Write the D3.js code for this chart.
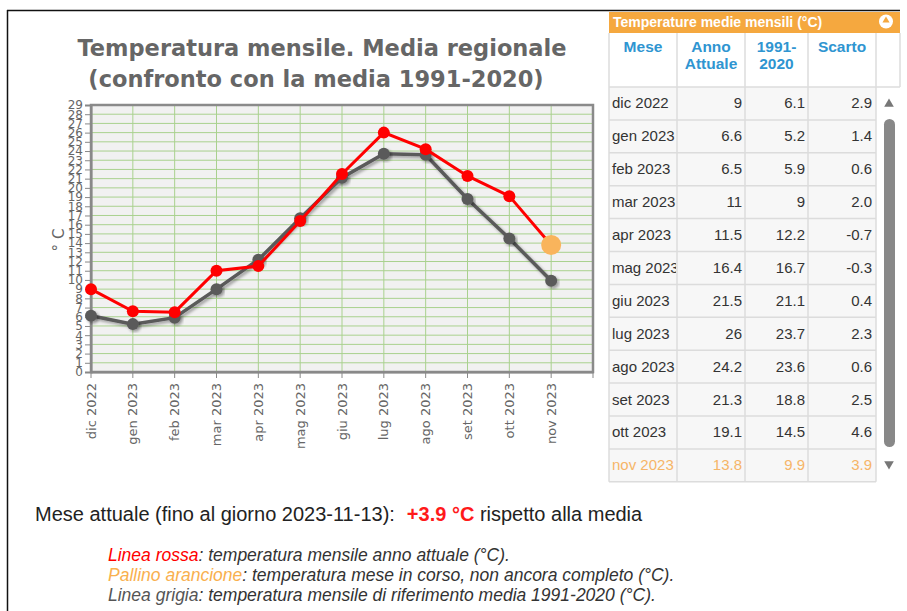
<!DOCTYPE html>
<html>
<head>
<meta charset="utf-8">
<script src="https://cdn.jsdelivr.net/npm/d3@7"></script>
<style>
  body { margin: 0; background: #fff; }
  svg text { font-family: "DejaVu Sans", sans-serif; }
  .tab text, .note text { font-family: "Liberation Sans", Arial, sans-serif; }
</style>
</head>
<body>
<svg id="chart" width="907" height="611"></svg>
<script>
// data
var months = ["dic 2022", "gen 2023", "feb 2023", "mar 2023", "apr 2023", "mag 2023",
              "giu 2023", "lug 2023", "ago 2023", "set 2023", "ott 2023", "nov 2023"];
var current = [9, 6.6, 6.5, 11, 11.5, 16.4, 21.5, 26, 24.2, 21.3, 19.1, 13.8];
var normal = [6.1, 5.2, 5.9, 9, 12.2, 16.7, 21.1, 23.7, 23.6, 18.8, 14.5, 9.9];
var scarto = ["2.9", "1.4", "0.6", "2.0", "-0.7", "-0.3", "0.4", "2.3", "0.6", "2.5", "4.6", "3.9"];
var yTicks = d3.range(0, 30);

var svg = d3.select("#chart");

// frame lines (screenshot border)
svg.append("line").attr("x1", 7).attr("x2", 900).attr("y1", 10.5).attr("y2", 10.5)
    .attr("stroke", "#111").attr("stroke-width", 1.5);
svg.append("line").attr("x1", 7.5).attr("x2", 7.5).attr("y1", 10).attr("y2", 611)
    .attr("stroke", "#111").attr("stroke-width", 1.5);

// title
svg.append("text").attr("x", 322).attr("y", 56).attr("text-anchor", "middle")
    .attr("font-size", 22.5).attr("font-weight", "bold").attr("fill", "#666")
    .text("Temperatura mensile. Media regionale");
svg.append("text").attr("x", 316).attr("y", 87).attr("text-anchor", "middle")
    .attr("font-size", 22.5).attr("font-weight", "bold").attr("fill", "#666")
    .text("(confronto con la media 1991-2020)");

var pLeft = 91, pRight = 593, pTop = 105, pBottom = 372;

var x = d3.scaleBand().domain(months).range([pLeft, pRight]).paddingInner(0).paddingOuter(0);
var y = d3.scaleLinear().domain([0, 29]).range([pBottom, pTop]);

var defs = svg.append("defs");
var sh = defs.append("filter").attr("id", "shadow").attr("x", "-20%").attr("y", "-20%")
    .attr("width", "140%").attr("height", "140%");
sh.append("feDropShadow").attr("dx", 2).attr("dy", 2).attr("stdDeviation", 1.5)
    .attr("flood-color", "#000").attr("flood-opacity", 0.35);

// plot background
svg.append("rect").attr("x", pLeft).attr("y", pTop).attr("width", pRight - pLeft).attr("height", pBottom - pTop)
    .attr("fill", "#f1f1f1");

// grid
svg.append("g").selectAll("line").data(yTicks.slice(1)).enter().append("line")
    .attr("x1", pLeft).attr("x2", pRight)
    .attr("y1", function(d) { return y(d); }).attr("y2", function(d) { return y(d); })
    .attr("stroke", "#a9d18e").attr("stroke-width", 1);
svg.append("g").selectAll("line").data(months.slice(1)).enter().append("line")
    .attr("x1", function(d) { return x(d); }).attr("x2", function(d) { return x(d); })
    .attr("y1", pTop).attr("y2", pBottom)
    .attr("stroke", "#a9d18e").attr("stroke-width", 1);

// border
svg.append("rect").attr("x", pLeft).attr("y", pTop).attr("width", pRight - pLeft).attr("height", pBottom - pTop)
    .attr("fill", "none").attr("stroke", "#8a8a8a").attr("stroke-width", 2.5);

// axes
var yAxis = d3.axisLeft(y).tickValues(yTicks).tickSize(6).tickPadding(2);
var gy = svg.append("g").attr("transform", "translate(" + pLeft + ",0)").call(yAxis);
gy.select(".domain").attr("stroke", "#888").attr("stroke-width", 2);
gy.selectAll(".tick line").attr("stroke", "#888");
gy.selectAll("text").attr("font-size", 12).attr("fill", "#666").attr("font-family", "DejaVu Sans");

var xAxis = d3.axisBottom(x).tickSize(6).tickSizeOuter(0);
var gx = svg.append("g").attr("transform", "translate(0," + pBottom + ")").call(xAxis);
gx.select(".domain").attr("stroke", "#888").attr("stroke-width", 2);
gx.selectAll(".tick").attr("transform", function(d) { return "translate(" + x(d) + ",0)"; });
gx.selectAll(".tick line").attr("stroke", "#888");
gx.append("line").attr("x1", pRight).attr("x2", pRight).attr("y1", 0).attr("y2", 6).attr("stroke", "#888");
gx.selectAll("text").attr("font-size", 13).attr("fill", "#666").attr("font-family", "DejaVu Sans")
    .attr("transform", "rotate(-90)").attr("text-anchor", "end")
    .attr("x", -11).attr("y", 0).attr("dy", "0.35em");

svg.append("text").attr("transform", "translate(64,240) rotate(-90)")
    .attr("text-anchor", "middle").attr("font-size", 15).attr("fill", "#666").text("° C");

// lines
var line = d3.line().x(function(d, i) { return x(months[i]); }).y(function(d) { return y(d); });

svg.append("path").datum(normal).attr("d", line).attr("fill", "none")
    .attr("stroke", "#5a5a5a").attr("stroke-width", 3.5).attr("filter", "url(#shadow)");
svg.append("g").selectAll("circle").data(normal).enter().append("circle")
    .attr("cx", function(d, i) { return x(months[i]); }).attr("cy", function(d) { return y(d); })
    .attr("r", 6).attr("fill", "#5a5a5a").attr("filter", "url(#shadow)");

svg.append("path").datum(current).attr("d", line).attr("fill", "none")
    .attr("stroke", "#ff0000").attr("stroke-width", 3);
svg.append("g").selectAll("circle").data(current.slice(0, 11)).enter().append("circle")
    .attr("cx", function(d, i) { return x(months[i]); }).attr("cy", function(d) { return y(d); })
    .attr("r", 6).attr("fill", "#ff0000");
svg.append("circle").attr("cx", x(months[11])).attr("cy", y(current[11]))
    .attr("r", 10).attr("fill", "#f9b45c");

// table
var tab = svg.append("g").attr("class", "tab");
var colX = [609, 677, 745, 808, 876, 900];
var headTop = 33, headBot = 87, rowH = 32.9;

tab.append("rect").attr("x", 609).attr("y", 12).attr("width", 291).attr("height", 21).attr("fill", "#f5a83f");
tab.append("text").attr("x", 613).attr("y", 27).attr("font-size", 14).attr("font-weight", "bold")
    .attr("fill", "#fff").text("Temperature medie mensili (°C)");
tab.append("circle").attr("cx", 886).attr("cy", 21.5).attr("r", 7).attr("fill", "#fff");
tab.append("path").attr("d", d3.symbol(d3.symbolTriangle, 22)()).attr("transform", "translate(886,20.5)")
    .attr("fill", "#f5a83f");

tab.append("rect").attr("x", 609).attr("y", headTop).attr("width", 291).attr("height", headBot - headTop)
    .attr("fill", "#fff");
tab.append("rect").attr("x", 609).attr("y", headBot).attr("width", 267).attr("height", rowH * 12)
    .attr("fill", "#f7f7f7");

// grid of table
tab.selectAll(".vl").data(colX.slice(0, 5)).enter().append("line")
    .attr("x1", function(d) { return d; }).attr("x2", function(d) { return d; })
    .attr("y1", headTop).attr("y2", headBot + rowH * 12)
    .attr("stroke", "#dcdcdc").attr("stroke-width", 1.5);
tab.append("line").attr("x1", 900).attr("x2", 900).attr("y1", headTop).attr("y2", headBot)
    .attr("stroke", "#dcdcdc").attr("stroke-width", 1.5);
tab.selectAll(".hl").data(d3.range(13)).enter().append("line")
    .attr("x1", 609).attr("x2", function(d) { return d == 0 ? 900 : 876; })
    .attr("y1", function(d) { return headBot + d * rowH; }).attr("y2", function(d) { return headBot + d * rowH; })
    .attr("stroke", "#dcdcdc").attr("stroke-width", 1.5);

var heads = [["Mese"], ["Anno", "Attuale"], ["1991-", "2020"], ["Scarto"]];
heads.forEach(function(h, i) {
    var t = tab.append("text").attr("x", (colX[i] + colX[i + 1]) / 2).attr("y", 52)
        .attr("text-anchor", "middle").attr("font-size", 15.5).attr("font-weight", "bold").attr("fill", "#2f95d1");
    h.forEach(function(s, j) {
        t.append("tspan").attr("x", (colX[i] + colX[i + 1]) / 2).attr("dy", j == 0 ? 0 : 16.5).text(s);
    });
});

// clip for the month column (coordinates relative to each row)
tab.append("clipPath").attr("id", "c0").append("rect")
    .attr("x", 609).attr("y", -25).attr("width", 67).attr("height", 40);

var rows = tab.selectAll(".row").data(months).enter().append("g")
    .attr("transform", function(d, i) { return "translate(0," + (headBot + i * rowH + rowH / 2 + 5) + ")"; })
    .attr("fill", function(d, i) { return i == 11 ? "#f6b568" : "#333"; })
    .attr("font-size", 15);
rows.append("text").attr("x", 612).attr("clip-path", "url(#c0)").text(function(d) { return d; });
rows.append("text").attr("x", 742).attr("text-anchor", "end").text(function(d, i) { return current[i]; });
rows.append("text").attr("x", 805).attr("text-anchor", "end").text(function(d, i) { return normal[i]; });
rows.append("text").attr("x", 872).attr("text-anchor", "end").text(function(d, i) { return scarto[i]; });

// scrollbar
tab.append("path").attr("d", d3.symbol(d3.symbolTriangle, 40)()).attr("transform", "translate(889,104)")
    .attr("fill", "#777");
tab.append("path").attr("d", d3.symbol(d3.symbolTriangle, 40)()).attr("transform", "translate(889,464) rotate(180)")
    .attr("fill", "#777");
tab.append("rect").attr("x", 884).attr("y", 119).attr("width", 11).attr("height", 328).attr("rx", 5.5)
    .attr("fill", "#888");

// notes
var note = svg.append("g").attr("class", "note");
var t1 = note.append("text").attr("x", 35).attr("y", 521).attr("font-size", 20).attr("fill", "#222");
t1.append("tspan").text("Mese attuale (fino al giorno 2023-11-13):");
t1.append("tspan").attr("dx", 12).attr("fill", "#ff1a1a").attr("font-weight", "bold").text("+3.9 °C");
t1.append("tspan").text(" rispetto alla media");

var legend = [
    ["Linea rossa", "#ff0000", ": temperatura mensile anno attuale (°C)."],
    ["Pallino arancione", "#f9b04e", ": temperatura mese in corso, non ancora completo (°C)."],
    ["Linea grigia", "#555", ": temperatura mensile di riferimento media 1991-2020 (°C)."]
];
legend.forEach(function(l, i) {
    var t = note.append("text").attr("x", 108).attr("y", 561 + i * 20).attr("font-size", 17.5)
        .attr("font-style", "italic").attr("fill", "#333");
    t.append("tspan").attr("fill", l[1]).text(l[0]);
    t.append("tspan").text(l[2]);
});
</script>
</body>
</html>
